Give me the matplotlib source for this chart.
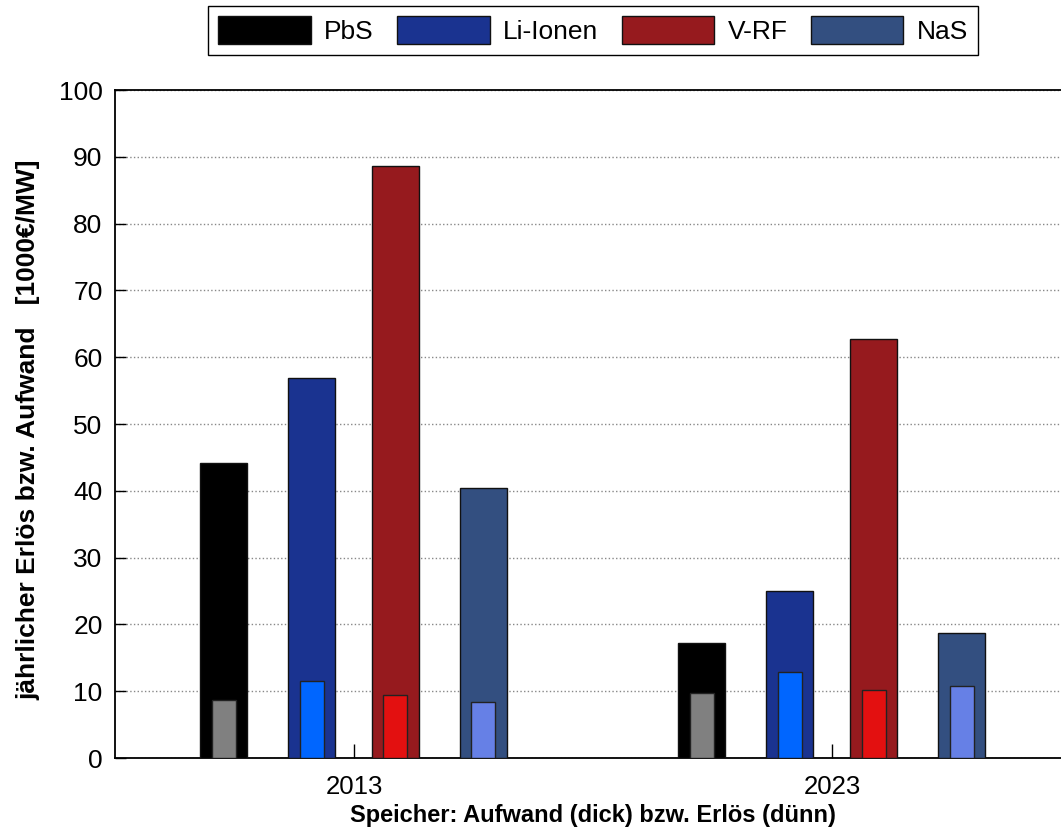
import numpy as np
import matplotlib.pyplot as plt

plt.rcParams['font.family'] = ['Liberation Sans', 'DejaVu Sans']

# data
years = ['2013', '2023']
techs = ['PbS', 'Li-Ionen', 'V-RF', 'NaS']
aufwand = [[44.2, 56.9, 88.6, 40.4],   # thick bars
           [17.2, 25.0, 62.7, 18.7]]
erloes = [[8.7, 11.5, 9.4, 8.4],       # thin bars
          [9.7, 12.9, 10.2, 10.8]]

thick_colors = ['#000000', '#1a3390', '#961a1e', '#334f80']
thin_colors = ['#808080', '#0066ff', '#e31010', '#6680e6']
offsets = [-0.273, -0.089, 0.086, 0.27]

fig = plt.figure(figsize=(10.61, 8.36), dpi=100)
ax = fig.add_axes([0.1084, 0.0933, 0.9016, 0.799])

x = np.arange(1, len(years) + 1)
aufwand = np.array(aufwand)
erloes = np.array(erloes)
handles = []
for i, t in enumerate(techs):
    b = ax.bar(x + offsets[i], aufwand[:, i], width=0.098, color=thick_colors[i],
               edgecolor='#111111', linewidth=1.0, zorder=3, label=t)
    handles.append(b)
    ax.bar(x + offsets[i], erloes[:, i], width=0.05, color=thin_colors[i],
           edgecolor='#222222', linewidth=1.0, zorder=4)

ax.set_xlim(0.5, 2.5)
ax.set_ylim(0, 100)
ax.set_xticks(x)
ax.set_xticklabels(years)
ax.set_yticks(np.arange(0, 101, 10))
ax.tick_params(direction='in', labelsize=19, length=8, width=1)
ax.tick_params(axis='y', pad=9)
ax.tick_params(axis='x', length=10, labelsize=18.5, pad=12)
ax.yaxis.grid(True, linestyle=':', color='#888888', linewidth=1.0, zorder=0)
ax.set_axisbelow(True)
for s in ax.spines.values():
    s.set_linewidth(1.3)
ax.spines['right'].set_visible(False)

ax.set_xlabel('Speicher: Aufwand (dick) bzw. Erlös (dünn)', fontsize=17,
              fontweight='bold', labelpad=4)
ax.set_ylabel('jährlicher Erlös bzw. Aufwand   [1000€/MW]', fontsize=19,
              fontweight='bold')
ax.yaxis.set_label_coords(-0.078, 0.492)

leg = fig.legend(handles=handles, loc='center', bbox_to_anchor=(0.559, 0.964),
                 ncol=4, fontsize=19, handlelength=3.5, handleheight=1.25,
                 columnspacing=0.9, handletextpad=0.5, borderpad=0.4,
                 fancybox=False, framealpha=1, edgecolor='black')
leg.get_frame().set_linewidth(1.0)

fig.savefig('out.png', dpi=100)
